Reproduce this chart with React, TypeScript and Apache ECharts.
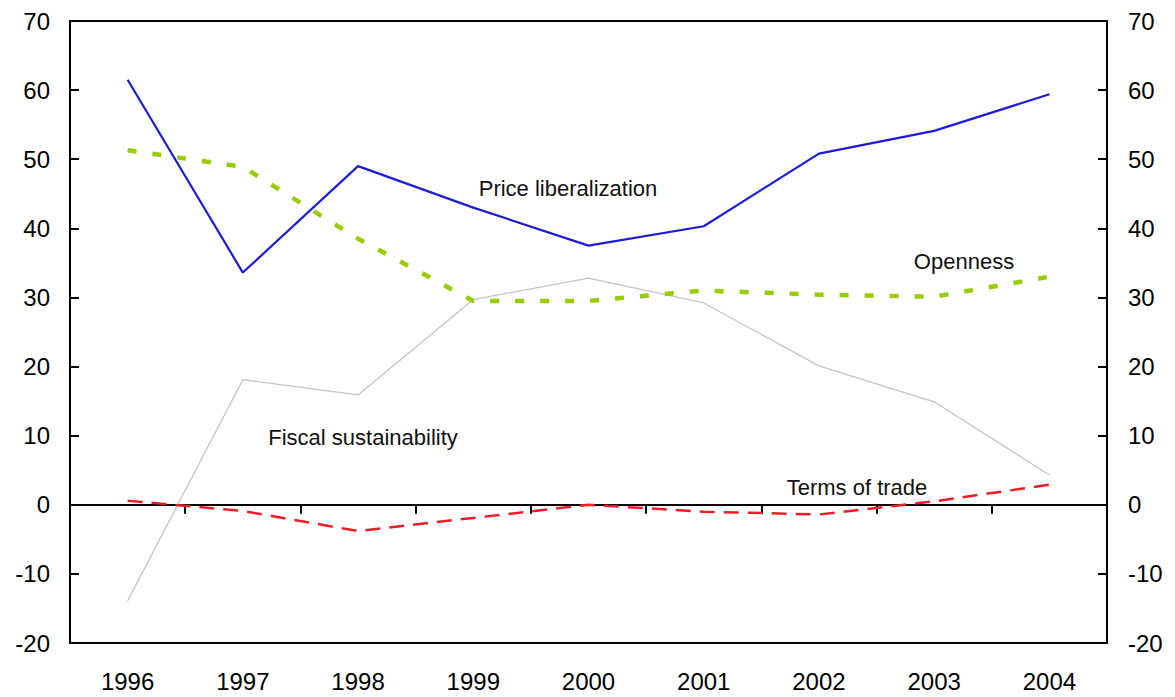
import React, { useEffect, useRef } from "react";
import * as echarts from "echarts";

const years = ["1996", "1997", "1998", "1999", "2000", "2001", "2002", "2003", "2004"];
const priceLiberalization = [61.5, 33.6, 49.0, 43.0, 37.5, 40.3, 50.8, 54.1, 59.4];
const openness = [51.3, 48.9, 38.5, 29.5, 29.5, 31.0, 30.4, 30.1, 33.0];
const fiscalSustainability = [-13.9, 18.1, 15.9, 29.7, 32.8, 29.2, 20.1, 14.9, 4.3];
const termsOfTrade = [0.6, -0.9, -3.8, -1.9, 0.0, -1.0, -1.4, 0.5, 2.9];
const yTicks = { min: -20, max: 70, interval: 10 };

const FONT = "'Liberation Sans', Arial, sans-serif";

export default function App() {
  const ref = useRef<HTMLDivElement>(null);
  useEffect(() => {
    document.body.style.margin = "0";
    const chart = echarts.init(ref.current!, null, { renderer: "svg" });
    const yAxisCommon = {
      type: "value",
      min: yTicks.min,
      max: yTicks.max,
      interval: yTicks.interval,
      splitLine: { show: false },
      axisLine: { show: true, onZero: false, lineStyle: { color: "#000", width: 2 } },
      axisTick: { show: true, inside: true, length: 9, lineStyle: { color: "#000", width: 2 } },
    };
    chart.setOption({
      animation: false,
      textStyle: { fontFamily: FONT },
      grid: {
        left: 70,
        top: 21,
        width: 1037,
        height: 622,
        show: true,
        borderColor: "#000",
        borderWidth: 2,
        backgroundColor: "transparent",
      },
      xAxis: [
        {
          type: "category",
          data: years,
          position: "bottom",
          boundaryGap: true,
          axisLine: { show: true, onZero: true, lineStyle: { color: "#000", width: 2 } },
          axisTick: { show: true, inside: false, length: 9, lineStyle: { color: "#000", width: 2 } },
          axisLabel: { show: false },
          splitLine: { show: false },
        },
        {
          type: "category",
          data: years,
          position: "bottom",
          boundaryGap: true,
          axisLine: { show: false, onZero: false },
          axisTick: { show: false },
          axisLabel: { show: true, fontSize: 24, color: "#000", margin: 26, fontFamily: FONT },
          splitLine: { show: false },
        },
      ],
      yAxis: [
        {
          ...yAxisCommon,
          position: "left",
          axisLabel: { fontSize: 24, color: "#000", margin: 20, fontFamily: FONT },
        },
        {
          ...yAxisCommon,
          position: "right",
          axisLabel: { fontSize: 24, color: "#000", margin: 21, fontFamily: FONT },
        },
      ],
      series: [
        {
          name: "Fiscal sustainability",
          type: "line",
          data: fiscalSustainability,
          symbol: "none",
          lineStyle: { color: "#c4c4c4", width: 1.3 },
          z: 2,
        },
        {
          name: "Terms of trade",
          type: "line",
          data: termsOfTrade,
          symbol: "none",
          lineStyle: { color: "#ee1c24", width: 2.5, type: [15, 9] },
          z: 3,
        },
        {
          name: "Price liberalization",
          type: "line",
          data: priceLiberalization,
          symbol: "none",
          lineStyle: { color: "#1c1cd8", width: 2.2 },
          z: 4,
        },
        {
          name: "Openness",
          type: "line",
          data: openness,
          symbol: "none",
          lineStyle: { color: "#99cc00", width: 4.5, type: [9, 16] },
          z: 5,
        },
      ],
      graphic: [
        { type: "text", x: 568, y: 188, style: { text: "Price liberalization", fontSize: 22, fontFamily: FONT, fill: "#111", align: "center", verticalAlign: "middle" } },
        { type: "text", x: 964, y: 261, style: { text: "Openness", fontSize: 22, fontFamily: FONT, fill: "#111", align: "center", verticalAlign: "middle" } },
        { type: "text", x: 363, y: 437, style: { text: "Fiscal sustainability", fontSize: 22, fontFamily: FONT, fill: "#111", align: "center", verticalAlign: "middle" } },
        { type: "text", x: 857, y: 487, style: { text: "Terms of trade", fontSize: 22, fontFamily: FONT, fill: "#111", align: "center", verticalAlign: "middle" } },
      ],
    });
    return () => chart.dispose();
  }, []);
  return <div ref={ref} style={{ width: 1175, height: 697, background: "#fff" }} />;
}
